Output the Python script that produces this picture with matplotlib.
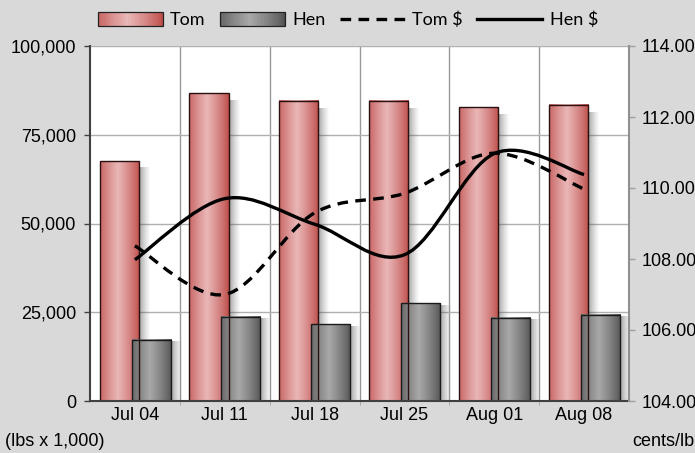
import numpy as np
import matplotlib
matplotlib.use("Agg")
import matplotlib.pyplot as plt
from matplotlib.path import Path
from matplotlib.patches import PathPatch, Rectangle
from matplotlib.lines import Line2D
from matplotlib.legend_handler import HandlerBase
from matplotlib.colors import to_rgb

weeks = ["Jul 04", "Jul 11", "Jul 18", "Jul 25", "Aug 01", "Aug 08"]
tom_lbs = [67600, 86700, 84600, 84600, 82700, 83400]
hen_lbs = [17200, 23700, 21600, 27600, 23500, 24300]
tom_price = [108.37, 107.00, 109.30, 109.85, 110.98, 109.97]
hen_price = [107.98, 109.70, 108.98, 108.12, 110.97, 110.38]

RED_EDGE = "#bd4b48"
RED_MID = "#e9b7b7"
GRAY_EDGE = "#525252"
GRAY_MID = "#a8a8a8"

plt.rcParams["font.family"] = ["Liberation Sans", "DejaVu Sans"]


def gradient_colors(edge, mid, n=64):
    e = np.array(to_rgb(edge))
    m = np.array(to_rgb(mid))
    t = np.linspace(0, 1, n)
    # light band a bit left of centre, darker toward both sides
    w = np.clip(1 - np.abs(t - 0.45) / 0.55, 0, 1) ** 0.8
    return e[None, :] * (1 - w[:, None]) + m[None, :] * w[:, None]


def draw_bar(ax, x, width, height, edge, mid):
    cols = gradient_colors(edge, mid)
    # soft shadow on the right
    sh = np.zeros((1, 32, 4))
    sh[..., :3] = 0.3
    sh[0, :, 3] = np.linspace(0.6, 0.0, 32) ** 1.3
    ax.imshow(sh, extent=[x + width / 2, x + width / 2 + 0.13, 0, height * 0.975],
              aspect="auto", zorder=1.5, interpolation="bilinear")
    ax.imshow(cols[None, :, :], extent=[x - width / 2, x + width / 2, 0, height],
              aspect="auto", zorder=2, interpolation="bilinear")
    ax.add_patch(Rectangle((x - width / 2, 0), width, height, fill=False,
                           edgecolor="#2a1010" if edge == RED_EDGE else "#1a1a1a",
                           linewidth=1.0, zorder=2.1))


def smooth_path(xs, ys):
    # Excel-like smoothed line: cubic bezier with Catmull-Rom tangents
    p = np.column_stack([xs, ys]).astype(float)
    pts = np.vstack([p[0], p, p[-1]])
    verts = [p[0]]
    codes = [Path.MOVETO]
    for i in range(1, len(pts) - 2):
        c1 = pts[i] + (pts[i + 1] - pts[i - 1]) / 6
        c2 = pts[i + 1] - (pts[i + 2] - pts[i]) / 6
        verts += [c1, c2, pts[i + 1]]
        codes += [Path.CURVE4] * 3
    return Path(verts, codes)


class GradientHandler(HandlerBase):
    def __init__(self, edge, mid):
        super().__init__()
        self.edge = edge
        self.mid = mid

    def create_artists(self, legend, orig_handle, xdescent, ydescent,
                       width, height, fontsize, trans):
        cols = gradient_colors(self.edge, self.mid, 30)
        arts = []
        h = height * 1.0
        y0 = -ydescent + (height - h) / 2
        for i, c in enumerate(cols):
            arts.append(Rectangle((-xdescent + width * i / 30, y0), width / 30 + 0.3, h,
                                  facecolor=c, edgecolor="none", transform=trans))
        arts.append(Rectangle((-xdescent, y0), width, h, fill=False,
                              edgecolor="#222222", linewidth=0.9, transform=trans))
        return arts


def main():
    fig = plt.figure(figsize=(6.95, 4.53), dpi=100, facecolor="#d9d9d9")
    ax = fig.add_axes([90 / 695, 1 - 401 / 453, 539 / 695, 355 / 453])
    ax.set_facecolor("white")

    x = np.arange(len(weeks))
    bw = 0.435
    for i in x:
        draw_bar(ax, i - 0.175, bw, tom_lbs[i], RED_EDGE, RED_MID)
        draw_bar(ax, i + 0.18, bw, hen_lbs[i], GRAY_EDGE, GRAY_MID)

    ax.set_xlim(-0.5, len(weeks) - 0.5)
    ax.set_ylim(0, 100000)
    ax.set_yticks([0, 25000, 50000, 75000, 100000])
    ax.set_yticklabels(["0", "25,000", "50,000", "75,000", "100,000"])
    ax.set_xticks(x)
    ax.set_xticklabels(weeks)
    ax.set_xticks(np.arange(0.5, len(weeks) - 0.5), minor=True)
    ax.tick_params(axis="x", which="major", length=0, labelsize=13, pad=4)
    ax.tick_params(axis="x", which="minor", length=3, color="#a0a0a0")
    ax.tick_params(axis="y", length=4, width=1, color="#404040", labelsize=13, pad=6)
    ax.grid(axis="y", color="#b0b0b0", linewidth=1.0, zorder=0)
    ax.grid(axis="x", which="minor", color="#999999", linewidth=1.0, zorder=1.7)
    ax.set_axisbelow(True)
    for s in ["left", "bottom"]:
        ax.spines[s].set_color("#404040")
        ax.spines[s].set_linewidth(1.5)
    ax.spines["top"].set_visible(False)
    ax.spines["right"].set_visible(False)

    ax2 = ax.twinx()
    ax2.set_ylim(104, 114)
    ax2.set_yticks(np.arange(104, 114.1, 2))
    ax2.set_yticklabels([f"{v:.2f}" for v in np.arange(104, 114.1, 2)])
    ax2.tick_params(axis="y", length=4, width=1, color="#a0a0a0", labelsize=13, pad=5)
    for s in ["left", "bottom", "top"]:
        ax2.spines[s].set_visible(False)
    ax2.spines["right"].set_color("#909090")
    ax2.spines["right"].set_linewidth(1.5)

    ax2.add_patch(PathPatch(smooth_path(x, tom_price), fill=False, edgecolor="black",
                            linewidth=2.4, linestyle=(0, (3.2, 2.2)), capstyle="butt", zorder=3))
    ax2.add_patch(PathPatch(smooth_path(x, hen_price), fill=False, edgecolor="black",
                            linewidth=2.4, zorder=3))

    fig.text(5 / 695, 1 - 441 / 453, "(lbs x 1,000)", fontsize=13, va="center", ha="left")
    fig.text(632 / 695, 1 - 441 / 453, "cents/lb", fontsize=13, va="center", ha="left")

    h_tom = Rectangle((0, 0), 1, 1)
    h_hen = Rectangle((0, 0), 1, 1)
    h_tp = Line2D([], [], color="black", linewidth=2.4, linestyle=(0, (3.2, 2.2)))
    h_hp = Line2D([], [], color="black", linewidth=2.4)
    fig.legend([h_tom, h_hen, h_tp, h_hp], ["Tom", "Hen", "Tom $", "Hen $"],
               handler_map={h_tom: GradientHandler(RED_EDGE, RED_MID),
                            h_hen: GradientHandler(GRAY_EDGE, GRAY_MID)},
               loc="center", bbox_to_anchor=(348 / 695, 1 - 20 / 453), ncol=4,
               frameon=False, prop={"family": ["Lato", "DejaVu Sans"], "size": 13},
               handlelength=3.6, handleheight=0.75, handletextpad=0.4, columnspacing=0.8)

    fig.savefig("out.png", dpi=100, facecolor=fig.get_facecolor())


if __name__ == "__main__":
    main()
